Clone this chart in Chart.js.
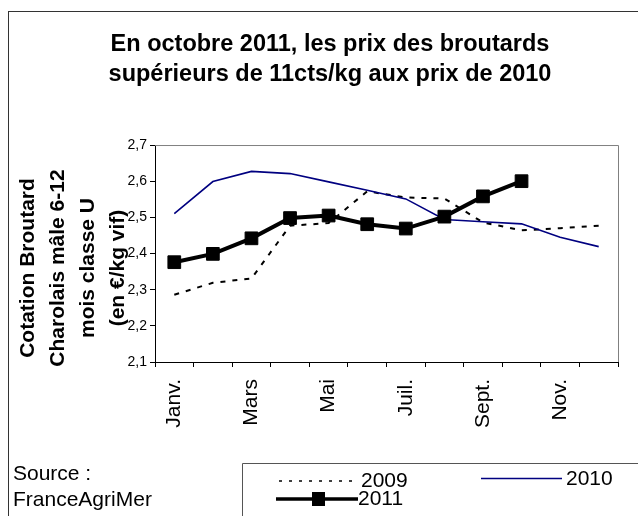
<!DOCTYPE html>
<html>
<head>
<meta charset="utf-8">
<script src="https://cdn.jsdelivr.net/npm/chart.js@4/dist/chart.umd.min.js"></script>
<style>
  html, body { margin: 0; padding: 0; background: #fff; }
  #wrap { width: 638px; height: 516px; position: relative; }
</style>
</head>
<body>
<div id="wrap"><canvas id="c" width="638" height="516"></canvas></div>
<script>
const months = ["Janv.","Févr.","Mars","Avr.","Mai","Juin","Juil.","Août","Sept.","Oct.","Nov.","Déc."];
const xTickLabels = ["Janv.","","Mars","","Mai","","Juil.","","Sept.","","Nov.",""];
const yTickLabels = ["2,1","2,2","2,3","2,4","2,5","2,6","2,7"];
const seriesNames = ["2009","2010","2011"];
const values2009 = [2.286, 2.319, 2.331, 2.477, 2.484, 2.572, 2.555, 2.552, 2.486, 2.464, 2.470, 2.477];
const values2010 = [2.510, 2.599, 2.627, 2.621, 2.598, 2.575, 2.551, 2.494, 2.488, 2.482, 2.445, 2.419];
const values2011 = [2.376, 2.399, 2.442, 2.498, 2.505, 2.481, 2.469, 2.502, 2.558, 2.600, null, null];
const titleLines = ["En octobre 2011, les prix des broutards", "supérieurs de 11cts/kg aux prix de 2010"];
const yTitleLines = ["Cotation Broutard", "Charolais mâle 6-12", "mois classe U", "(en €/kg vif)"];
const sourceLines = ["Source :", "FranceAgriMer"];

const FONT = '"Liberation Sans", Arial, Helvetica, sans-serif';

const decor = {
  id: 'decor',
  afterDraw(chart) {
    const ctx = chart.ctx;
    const a = chart.chartArea;
    ctx.save();
    // outer frame
    ctx.strokeStyle = '#333';
    ctx.lineWidth = 1;
    ctx.strokeRect(8.5, 11.5, 700, 600);
    // plot area top/right border
    ctx.strokeStyle = '#808080';
    ctx.beginPath();
    ctx.moveTo(a.left, a.top + 0.5);
    ctx.lineTo(a.right + 0.5, a.top + 0.5);
    ctx.lineTo(a.right + 0.5, a.bottom);
    ctx.stroke();
    // y axis title
    ctx.fillStyle = '#000';
    ctx.font = 'bold 21px ' + FONT;
    ctx.textAlign = 'center';
    ctx.textBaseline = 'middle';
    yTitleLines.forEach((t, i) => {
      ctx.save();
      ctx.translate(28 + i * 30, 268);
      ctx.rotate(-Math.PI / 2);
      ctx.fillText(t, 0, 0);
      ctx.restore();
    });
    // source
    ctx.font = '21px ' + FONT;
    ctx.textAlign = 'left';
    ctx.fillText(sourceLines[0], 13, 474);
    ctx.fillText(sourceLines[1], 13, 500);
    // legend box
    ctx.strokeStyle = '#555';
    ctx.lineWidth = 1;
    ctx.beginPath();
    ctx.moveTo(242.5, 520);
    ctx.lineTo(242.5, 463.5);
    ctx.lineTo(640, 463.5);
    ctx.stroke();
    // legend 2009
    ctx.strokeStyle = '#000';
    ctx.lineWidth = 1.5;
    ctx.setLineDash([3, 7]);
    ctx.beginPath();
    ctx.moveTo(279, 481); ctx.lineTo(357, 481);
    ctx.stroke();
    ctx.setLineDash([]);
    // legend 2010
    ctx.strokeStyle = '#000080';
    ctx.lineWidth = 1.5;
    ctx.beginPath();
    ctx.moveTo(481, 478.5); ctx.lineTo(562, 478.5);
    ctx.stroke();
    // legend 2011
    ctx.strokeStyle = '#000';
    ctx.lineWidth = 3.5;
    ctx.beginPath();
    ctx.moveTo(276, 499); ctx.lineTo(358, 499);
    ctx.stroke();
    ctx.fillStyle = '#000';
    ctx.fillRect(312, 492, 13, 14);
    ctx.font = '21px ' + FONT;
    ctx.textBaseline = 'middle';
    ctx.fillText(seriesNames[0], 361, 481);
    ctx.fillText(seriesNames[1], 566, 479);
    ctx.fillText(seriesNames[2], 358, 499);
    ctx.restore();
  }
};

new Chart(document.getElementById('c'), {
  type: 'line',
  data: {
    labels: months,
    datasets: [
      { label: seriesNames[0], data: values2009, borderColor: '#000', borderWidth: 2,
        borderDash: [5, 7], pointRadius: 0, fill: false, tension: 0, order: 3 },
      { label: seriesNames[1], data: values2010, borderColor: '#000080', borderWidth: 1.6,
        pointRadius: 0, fill: false, tension: 0, order: 2 },
      { label: seriesNames[2], data: values2011, borderColor: '#000', borderWidth: 4,
        pointStyle: 'rect', pointRadius: 9, pointBackgroundColor: '#000', pointBorderColor: '#000',
        pointBorderWidth: 1, fill: false, tension: 0, order: 1, spanGaps: false }
    ]
  },
  options: {
    responsive: false,
    animation: false,
    devicePixelRatio: 1,
    layout: { padding: { left: 42, right: 20, top: 0, bottom: 0 } },
    plugins: {
      legend: { display: false },
      tooltip: { enabled: false },
      title: {
        display: true,
        text: titleLines,
        color: '#000',
        font: { family: FONT, size: 23.5, weight: 'bold', lineHeight: 1.277 },
        padding: { top: 30, bottom: 55 }
      }
    },
    scales: {
      x: {
        type: 'category',
        offset: true,
        afterFit(s) { s.height = 154; },
        grid: { display: true, drawOnChartArea: false, drawTicks: true, tickLength: 5,
                color: '#000', offset: true },
        border: { display: true, color: '#000', width: 1 },
        ticks: {
          autoSkip: false, minRotation: 90, maxRotation: 90, padding: 12,
          color: '#000', font: { family: FONT, size: 21 },
          callback: (v, i) => xTickLabels[i]
        }
      },
      y: {
        min: 2.1, max: 2.7,
        afterFit(s) { s.width = 113; },
        grid: { display: true, drawOnChartArea: false, drawTicks: true, tickLength: 5, color: '#000' },
        border: { display: true, color: '#000', width: 1 },
        ticks: {
          stepSize: 0.1, padding: 3, color: '#000',
          font: { family: FONT, size: 14 },
          callback: (v) => yTickLabels[Math.round((v - 2.1) * 10)]
        }
      }
    }
  },
  plugins: [decor]
});
</script>
</body>
</html>
